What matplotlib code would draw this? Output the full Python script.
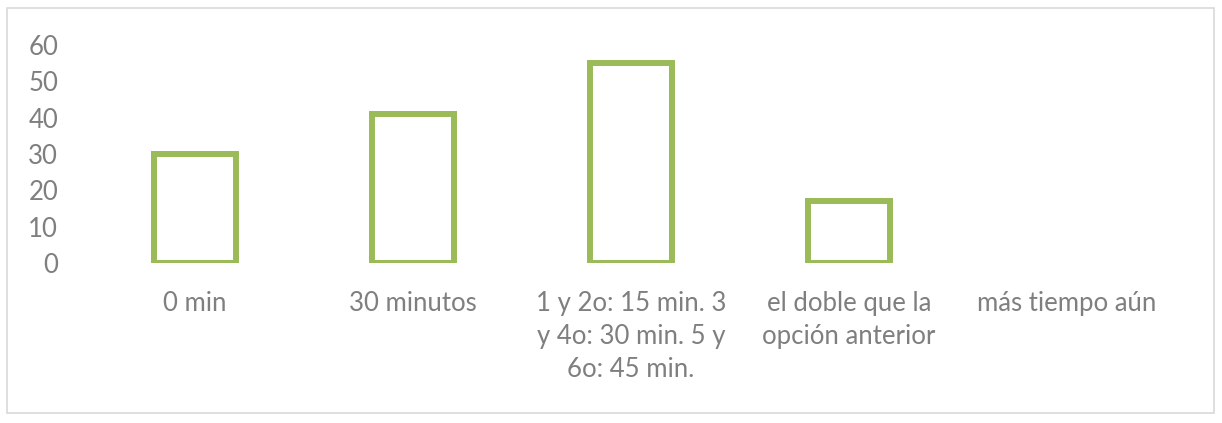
import matplotlib
matplotlib.use("Agg")
import matplotlib.pyplot as plt
from matplotlib.patches import Rectangle

categories = ["0 min", "30 minutos", "1 y 2o: 15 min. 3\ny 4o: 30 min. 5 y\n6o: 45 min.",
              "el doble que la\nopción anterior", "más tiempo aún"]
values = [30, 41, 55, 17, 0]
yticks = [0, 10, 20, 30, 40, 50, 60]

W, H = 1222, 423
fig = plt.figure(figsize=(W / 100, H / 100), dpi=100)
plt.rcParams['font.family'] = ['Lato', 'DejaVu Sans']

fig.patches.append(Rectangle((7 / W, 1 - 413 / H), (1214 - 7) / W, (413 - 8) / H,
                             transform=fig.transFigure, fill=False,
                             edgecolor='#D9D9D9', linewidth=1.2))

ax = fig.add_axes([86 / W, 160.2 / H, (1176 - 86) / W, (378 - 160.2) / H])
x = list(range(len(categories)))
lws = [4.3 if v > 0 else 0 for v in values]
ax.bar(x, values, width=0.38, facecolor='white', edgecolor='#9BBB59', linewidth=lws)
ax.set_xlim(-0.5, len(categories) - 0.5)
ax.set_ylim(0, 60)
ax.set_yticks(yticks)
ax.set_yticklabels([str(v) for v in yticks])
ax.set_xticks(x)
ax.set_xticklabels(categories, linespacing=1.42)
for s in ax.spines.values():
    s.set_visible(False)
ax.tick_params(axis='both', length=0, labelsize=18.5, colors='#7F7F7F')
ax.tick_params(axis='y', pad=20)
ax.tick_params(axis='x', pad=20)
for lab in ax.get_xticklabels():
    lab.set_verticalalignment('top')

fig.savefig("out.png", dpi=100)
